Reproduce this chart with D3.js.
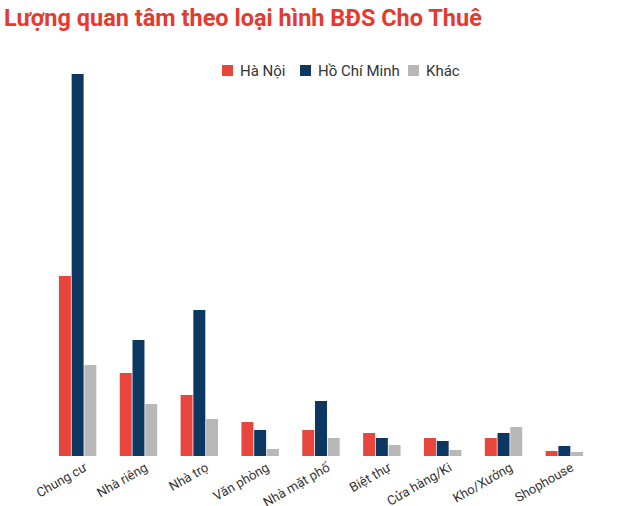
<!DOCTYPE html>
<html><head><meta charset="utf-8">
<script src="https://cdn.jsdelivr.net/npm/d3@7"></script>
<style>body{margin:0;background:#fff;font-family:Roboto,sans-serif}</style>
</head><body><svg id="c" width="640" height="506"></svg>
<script>
const categories = ["Chung cư","Nhà riêng","Nhà trọ","Văn phòng","Nhà mặt phố","Biệt thự","Cửa hàng/Ki","Kho/Xưởng","Shophouse"];
const seriesNames = ["Hà Nội","Hồ Chí Minh","Khác"];
const hanoi = [180,83,61,34,26,23,18,18,5];
const hcm = [382,116,146,26,55,18,15,23,10];
const other = [91,52,37,7,18,11,6,29,4];
const colors = ["#e8453c","#0c3761","#b8b8b8"];
const series = [hanoi,hcm,other];

const svg = d3.select("#c");
svg.append("text").attr("x",4).attr("y",26).attr("fill","#e53a2f")
  .attr("font-size",23.5).attr("font-weight","bold").text("Lượng quan tâm theo loại hình BĐS Cho Thuê");

const x = d3.scaleBand().domain(categories).range([46,596]).paddingInner(0.36).paddingOuter(0.2);
const xs = d3.scaleBand().domain(seriesNames).range([0,x.bandwidth()]).padding(0.06);
const y = d3.scaleLinear().domain([0,382]).range([456,74]);

const g = svg.append("g");
categories.forEach((c,i)=>{
  seriesNames.forEach((s,j)=>{
    g.append("rect").attr("x",x(c)+xs(s)).attr("width",xs.bandwidth())
      .attr("y",y(series[j][i])).attr("height",y(0)-y(series[j][i])).attr("fill",colors[j]);
  });
});

const ax = svg.append("g").attr("transform","translate(0,456)")
  .call(d3.axisBottom(x).tickSize(0).tickPadding(0));
ax.select(".domain").remove();
ax.selectAll("text").attr("font-size",13).attr("fill","#333").attr("font-family","Roboto,sans-serif")
  .attr("text-anchor","end").attr("y",0).attr("dy","0")
  .attr("transform","translate(10,14) rotate(-30)");

const leg = svg.append("g");
const lx = [222,300,408];
seriesNames.forEach((s,j)=>{
  leg.append("rect").attr("x",lx[j]).attr("y",65).attr("width",11).attr("height",11).attr("fill",colors[j]);
  leg.append("text").attr("x",lx[j]+18).attr("y",76).attr("font-size",15).attr("fill","#333").text(s);
});
</script></body></html>
